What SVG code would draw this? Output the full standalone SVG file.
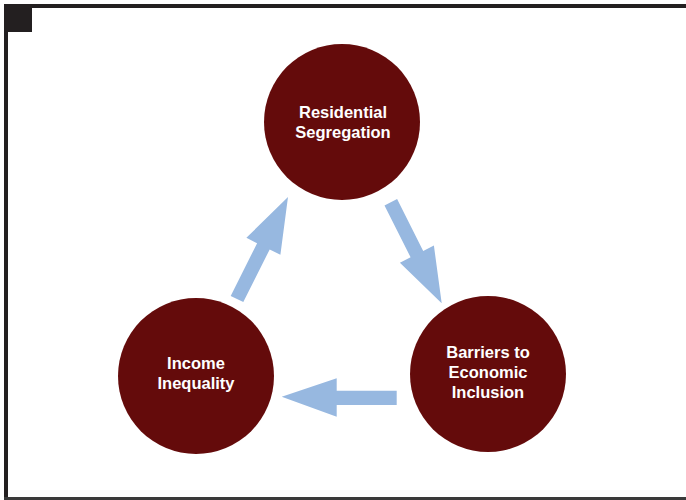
<svg xmlns="http://www.w3.org/2000/svg" width="686" height="500" viewBox="0 0 686 500">
<style>
.node circle{fill:#640b0b}
.lbl{font-family:"Liberation Sans",Arial,sans-serif;font-weight:bold;font-size:16.5px;fill:#ffffff;text-anchor:middle}
.arrow{fill:#97b8e0}
.frame{fill:#231f20}
</style>
<rect width="686" height="500" fill="#ffffff"/>
<g id="frame">
<rect class="frame" x="4" y="4" width="682" height="4"/>
<rect class="frame" x="4" y="4" width="4" height="494"/>
<rect class="frame" x="4" y="4" width="28" height="28"/>
<rect x="4" y="497" width="682" height="3" fill="#3a3a3a"/>
</g>
<g id="connectors">
<polygon class="arrow" points="230.7,295.9 257.1,243.2 246.4,237.8 288,197 280.4,254.8 269.7,249.4 243.3,302.1"/>
<polygon class="arrow" points="397.1,199.1 423.2,250.9 433.9,245.6 441.7,303.3 399.9,262.7 410.6,257.3 384.5,205.4"/>
<polygon class="arrow" points="396.7,390.7 336.7,390.7 336.7,378.3 281.7,396.7 336.7,416.7 336.7,405 396.7,405"/>
</g>
<g id="node-segregation" class="node">
<circle cx="342" cy="122" r="78"/>
<text class="lbl" x="343" y="118">Residential</text>
<text class="lbl" x="343" y="138">Segregation</text>
</g>
<g id="node-barriers" class="node">
<circle cx="488" cy="374" r="78"/>
<text class="lbl" x="488" y="358">Barriers to</text>
<text class="lbl" x="488" y="378">Economic</text>
<text class="lbl" x="488" y="398">Inclusion</text>
</g>
<g id="node-income" class="node">
<circle cx="196" cy="376" r="78"/>
<text class="lbl" x="196" y="369">Income</text>
<text class="lbl" x="196" y="389">Inequality</text>
</g>
</svg>
